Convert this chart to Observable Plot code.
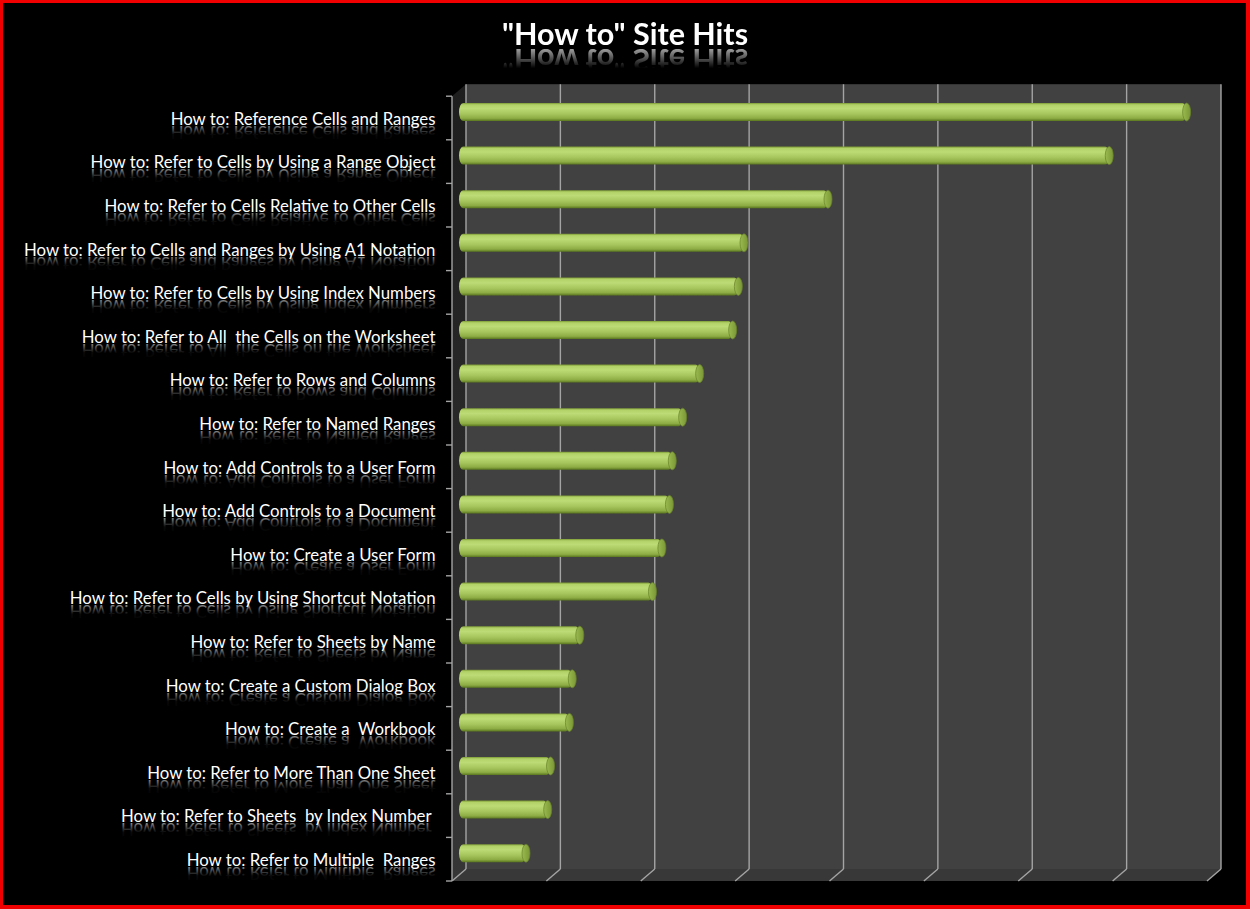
<!DOCTYPE html>
<html>
<head>
<meta charset="utf-8">
<script src="https://cdn.jsdelivr.net/npm/d3@7"></script>
<script src="https://cdn.jsdelivr.net/npm/@observablehq/plot@0.6"></script>
<style>
html, body { margin: 0; padding: 0; background: #000; }
#wrap { position: relative; width: 1250px; height: 909px; background: #000; overflow: hidden; }
#title { position: absolute; top: 18px; left: 0; width: 1250px; text-align: center;
  font-family: Lato, "Open Sans", sans-serif; font-weight: bold; font-size: 30.5px; line-height: 1; color: #fff;
  -webkit-box-reflect: below -4px linear-gradient(transparent 25%, rgba(255,255,255,0.75)); }
#title span { display: inline-block; }
#chart { position: absolute; top: 70px; left: 0; }
#border { position: absolute; left: 0; top: 0; right: 0; bottom: 0; box-sizing: border-box;
  border-style: solid; border-color: #f00000; border-width: 3px 4px 4px 3px; pointer-events: none; }
</style>
</head>
<body>
<div id="wrap">
  <div id="title"><span>"How to" Site Hits</span></div>
  <div id="chart"></div>
  <div id="border"></div>
</div>
<script>
const categories = [
  "How to: Reference Cells and Ranges",
  "How to: Refer to Cells by Using a Range Object",
  "How to: Refer to Cells Relative to Other Cells",
  "How to: Refer to Cells and Ranges by Using A1 Notation",
  "How to: Refer to Cells by Using Index Numbers",
  "How to: Refer to All  the Cells on the Worksheet",
  "How to: Refer to Rows and Columns",
  "How to: Refer to Named Ranges",
  "How to: Add Controls to a User Form",
  "How to: Add Controls to a Document",
  "How to: Create a User Form",
  "How to: Refer to Cells by Using Shortcut Notation",
  "How to: Refer to Sheets by Name",
  "How to: Create a Custom Dialog Box",
  "How to: Create a  Workbook",
  "How to: Refer to More Than One Sheet",
  "How to: Refer to Sheets  by Index Number ",
  "How to: Refer to Multiple  Ranges"
];
const hits = [771, 689, 391, 302, 296, 290, 255, 237, 226, 223, 215, 205, 128, 120, 117, 97, 94, 71];
const xTicks = [0, 100, 200, 300, 400, 500, 600, 700, 800];

const data = categories.map((name, i) => ({name, hits: hits[i]}));
const DX = 7, DY = 6; // 3D depth offset (px) between middle plane and back/front planes

const plot = Plot.plot({
  width: 1250,
  height: 836,
  marginLeft: 459,
  marginRight: 36,
  marginTop: 7.4,
  marginBottom: 18.2,
  style: {background: "transparent", overflow: "visible"},
  x: {domain: [0, 800], axis: null},
  y: {domain: categories, axis: null, padding: 0.587, round: false},
  marks: [
    Plot.barX(data, {x: "hits", y: "name", fill: "url(#barGrad)", rx: 4, ry: 50}),
    Plot.barX(data, {x1: "hits", x2: "hits", y: "name", insetLeft: -4, insetRight: -4, rx: 4, ry: 50,
      fill: "url(#capGrad)", stroke: "#67832a", strokeWidth: 0.7}),
    Plot.text(data, {y: "name", text: "name", frameAnchor: "left", dx: -24, dy: 7, textAnchor: "end",
      fill: "#ffffff", fontSize: 16.8, fontFamily: "Lato, 'Open Sans', sans-serif"})
  ]
});

document.getElementById("chart").appendChild(plot);

const svg = d3.select(plot);
const defs = svg.insert("defs", ":first-child");
const bg = defs.append("linearGradient").attr("id", "barGrad").attr("x1", 0).attr("y1", 0).attr("x2", 0).attr("y2", 1);
[[0, "#7d9a34"], [0.1, "#b2d268"], [0.3, "#bddb76"], [0.6, "#a7c65d"], [0.85, "#8dac44"], [1, "#5a761f"]]
  .forEach(([o, c]) => bg.append("stop").attr("offset", o).attr("stop-color", c));
const cg = defs.append("linearGradient").attr("id", "capGrad").attr("x1", 0).attr("y1", 0).attr("x2", 1).attr("y2", 0);
[[0, "#9aba50"], [1, "#7a9734"]].forEach(([o, c]) => cg.append("stop").attr("offset", o).attr("stop-color", c));
const lg = defs.append("linearGradient").attr("id", "leftWall").attr("x1", 0).attr("y1", 0).attr("x2", 0).attr("y2", 1);
[[0, "#1e1e1e"], [1, "#363636"]].forEach(([o, c]) => lg.append("stop").attr("offset", o).attr("stop-color", c));
const rg = defs.append("linearGradient").attr("id", "reflGrad").attr("x1", 0).attr("y1", 0).attr("x2", 0).attr("y2", 1);
[[0, 0], [0.4, 0.04], [0.8, 0.5], [1, 0.55]].forEach(([o, a]) =>
  rg.append("stop").attr("offset", o).attr("stop-color", "#fff").attr("stop-opacity", a));

const xs = plot.scale("x"), ys = plot.scale("y");
const [xA, xB] = xs.range;
const bw = ys.bandwidth;
const centers = categories.map(c => ys.apply(c) + bw / 2);
const step = centers[1] - centers[0];
const bounds = centers.map(c => c - step / 2).concat([centers[centers.length - 1] + step / 2]);
const yA = bounds[0], yB = bounds[bounds.length - 1];
const gridColor = "#a4a4a4";

const deco = svg.insert("g", "defs + *");
// back wall
deco.append("rect").attr("x", xA + DX).attr("y", yA - DY).attr("width", xB - xA).attr("height", yB - yA).attr("fill", "#414141");
// left wall
deco.append("polygon").attr("points", [[xA - DX, yA + DY], [xA + DX, yA - DY], [xA + DX, yB - DY], [xA - DX, yB + DY]].join(" "))
  .attr("fill", "url(#leftWall)");
// floor
deco.append("polygon").attr("points", [[xA - DX, yB + DY], [xA + DX, yB - DY], [xB + DX, yB - DY], [xB - DX, yB + DY]].join(" "))
  .attr("fill", "#383838");
// back-wall grid lines
deco.selectAll("line.grid").data(xTicks).join("line").attr("class", "grid")
  .attr("x1", d => xs.apply(d) + DX).attr("x2", d => xs.apply(d) + DX).attr("y1", yA - DY).attr("y2", yB - DY)
  .attr("stroke", gridColor).attr("stroke-width", 1.4);
// floor grid lines
deco.selectAll("line.floor").data(xTicks).join("line").attr("class", "floor")
  .attr("x1", d => xs.apply(d) + DX).attr("y1", yB - DY).attr("x2", d => xs.apply(d) - DX).attr("y2", yB + DY)
  .attr("stroke", gridColor).attr("stroke-width", 1.4);
// front axis line and ticks at category boundaries
deco.append("line").attr("x1", xA - DX).attr("x2", xA - DX).attr("y1", yA + DY).attr("y2", yB + DY)
  .attr("stroke", gridColor).attr("stroke-width", 1.4);
deco.selectAll("line.tick").data(bounds).join("line").attr("class", "tick")
  .attr("x1", xA - DX - 6).attr("x2", xA - DX).attr("y1", d => d + DY).attr("y2", d => d + DY)
  .attr("stroke", gridColor).attr("stroke-width", 1.4);

// label text: keep spacing and add mirrored reflections (mirrored about the baseline)
svg.selectAll("g[aria-label='text'] text").each(function() {
  this.setAttributeNS("http://www.w3.org/XML/1998/namespace", "xml:space", "preserve");
  this.style.whiteSpace = "pre";
  let base;
  try { base = this.getStartPositionOfChar(0).y; } catch (e) { const bb = this.getBBox(); base = bb.y + bb.height * 0.8; }
  const clone = this.cloneNode(true);
  const t = this.getAttribute("transform") || "";
  clone.setAttribute("transform", `${t} translate(0,${2 * base + 1}) scale(1,-1)`);
  clone.setAttribute("fill", "url(#reflGrad)");
  clone.setAttribute("aria-hidden", "true");
  this.parentNode.appendChild(clone);
});
</script>
</body>
</html>
